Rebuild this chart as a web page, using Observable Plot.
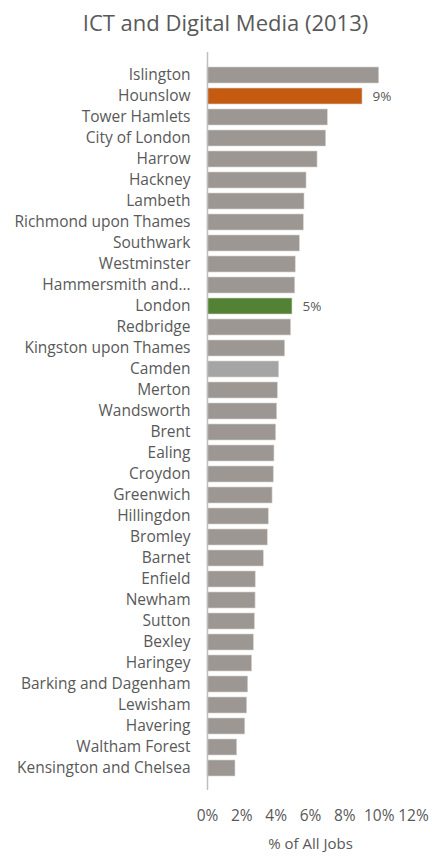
<!DOCTYPE html>
<html>
<head>
<meta charset="utf-8">
<script src="https://cdn.jsdelivr.net/npm/d3@7"></script>
<script src="https://cdn.jsdelivr.net/npm/@observablehq/plot@0.6"></script>
<style>
  html, body { margin: 0; padding: 0; background: #fff; overflow: hidden; }
  svg { display: block; }
</style>
</head>
<body>
<div id="chart"></div>
<script>
const title = "ICT and Digital Media (2013)";
const boroughs = [
  "Islington", "Hounslow", "Tower Hamlets", "City of London", "Harrow", "Hackney", "Lambeth",
  "Richmond upon Thames", "Southwark", "Westminster", "Hammersmith and…", "London", "Redbridge",
  "Kingston upon Thames", "Camden", "Merton", "Wandsworth", "Brent", "Ealing", "Croydon", "Greenwich",
  "Hillingdon", "Bromley", "Barnet", "Enfield", "Newham", "Sutton", "Bexley", "Haringey",
  "Barking and Dagenham", "Lewisham", "Havering", "Waltham Forest", "Kensington and Chelsea"
];
const shares = [
  10.0, 9.03, 7.01, 6.91, 6.41, 5.77, 5.65,
  5.61, 5.38, 5.14, 5.11, 4.95, 4.87,
  4.52, 4.17, 4.10, 4.06, 4.00, 3.90, 3.86, 3.79,
  3.57, 3.51, 3.28, 2.81, 2.80, 2.76, 2.70, 2.60,
  2.37, 2.31, 2.20, 1.73, 1.63
];
const highlight = { "Hounslow": "#C55A11", "London": "#548235", "Camden": "#A5A5A5" };
const labelled = ["Hounslow", "London"];
const xTicks = [0, 2, 4, 6, 8, 10, 12];
const xLabel = "% of All Jobs";

const data = boroughs.map((b, i) => ({ borough: b, value: shares[i], color: highlight[b] || "#9C9793" }));

const font = "'Open Sans', Lato, sans-serif";
const ink = "#595959";
const chart = Plot.plot({
  width: 432,
  height: 858,
  marginLeft: 207,
  marginRight: 19,
  marginTop: 52,
  marginBottom: 68,
  style: { fontFamily: font, fontSize: "15px", color: ink, background: "#fff" },
  x: { domain: [0, 12], ticks: xTicks, tickFormat: d => d + "%", label: null },
  y: { domain: boroughs, paddingInner: 0.25, paddingOuter: 0.125, label: null },
  marks: [
    Plot.barX(data, { x: "value", y: "borough", fill: d => d.color, stroke: "#d6d3d0", strokeWidth: 0.6 }),
    Plot.text(data.filter(d => labelled.includes(d.borough)), {
      x: "value", y: "borough", text: d => Math.round(d.value) + "%", textAnchor: "start", dx: 10,
      fill: ink, fontSize: 13.5
    }),
    Plot.axisY({ tickSize: 0, tickPadding: 17, label: null, fontSize: 15.5, fill: ink }),
    Plot.axisX({ ticks: xTicks, tickFormat: d => d + "%", tickSize: 0, tickPadding: 19, label: null, fontSize: 15.5, fill: ink }),
    Plot.ruleX([0], { stroke: "#bfbfbf", strokeWidth: 1.5 }),
    Plot.ruleY([0], { x1: 0, x2: 12, stroke: "#bfbfbf", strokeWidth: 1.5 }),
    Plot.text([xLabel], { frameAnchor: "bottom", dy: 58, text: d => d, fontSize: 15, fill: ink }),
    Plot.text([title], { frameAnchor: "top-left", dx: 18, dy: -37, textAnchor: "middle", text: d => d, fontSize: 22, fill: ink })
  ]
});
document.getElementById("chart").appendChild(chart);
</script>
</body>
</html>
